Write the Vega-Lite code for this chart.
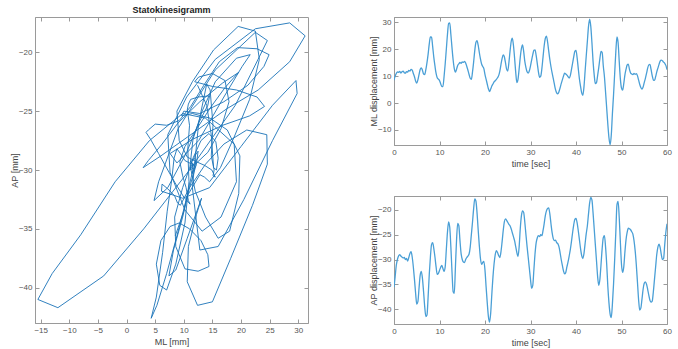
{
"$schema": "https://vega.github.io/schema/vega-lite/v6.json",
"padding": {"left": 9, "top": 5, "right": 5, "bottom": 2},
"background": "white",
"datasets": {"s": [
{"t":0,"ml":8.5,"ap":-35.6},{"t":0.25,"ml":10,"ap":-33.5},{"t":0.5,"ml":11,"ap":-31.2},{"t":0.75,"ml":11.6,"ap":-30},{"t":1,"ml":11.4,"ap":-29.3},{"t":1.25,"ml":11.8,"ap":-29},{"t":1.5,"ml":11.2,"ap":-29.3},{"t":1.75,"ml":11.6,"ap":-29.5},
{"t":2,"ml":11.9,"ap":-29.7},{"t":2.25,"ml":11.3,"ap":-29.6},{"t":2.5,"ml":11.1,"ap":-30},{"t":2.75,"ml":11.7,"ap":-29.8},{"t":3,"ml":11.5,"ap":-30.3},{"t":3.25,"ml":12.1,"ap":-29.6},{"t":3.5,"ml":11.9,"ap":-28.8},{"t":3.75,"ml":12.5,"ap":-28.4},
{"t":4,"ml":12.2,"ap":-29.5},{"t":4.25,"ml":11,"ap":-31.5},{"t":4.5,"ml":9.8,"ap":-34},{"t":4.75,"ml":8.2,"ap":-36.8},{"t":5,"ml":7.4,"ap":-39},{"t":5.25,"ml":8.6,"ap":-38.5},{"t":5.5,"ml":10.6,"ap":-35.8},{"t":5.75,"ml":12.5,"ap":-33.2},
{"t":6,"ml":13.1,"ap":-32.4},{"t":6.25,"ml":12.2,"ap":-33.8},{"t":6.5,"ml":10.8,"ap":-36.5},{"t":6.75,"ml":10.6,"ap":-39.5},{"t":7,"ml":12.4,"ap":-41.5},{"t":7.25,"ml":15,"ap":-41.2},{"t":7.5,"ml":18.2,"ap":-37.5},{"t":7.75,"ml":22,"ap":-33},
{"t":8,"ml":24.6,"ap":-29.5},{"t":8.25,"ml":24.5,"ap":-27},{"t":8.5,"ml":21,"ap":-26.6},{"t":8.75,"ml":17,"ap":-27.8},{"t":9,"ml":13.8,"ap":-29.5},{"t":9.25,"ml":11,"ap":-31.5},{"t":9.5,"ml":9.4,"ap":-33},{"t":9.75,"ml":8.9,"ap":-32.8},
{"t":10,"ml":8.4,"ap":-32.2},{"t":10.25,"ml":7.2,"ap":-31.6},{"t":10.5,"ml":6.2,"ap":-31.2},{"t":10.75,"ml":6.1,"ap":-31.8},{"t":11,"ml":9.8,"ap":-32.4},{"t":11.25,"ml":14.5,"ap":-31.5},{"t":11.5,"ml":20,"ap":-28},{"t":11.75,"ml":25.5,"ap":-24.5},
{"t":12,"ml":29.6,"ap":-22.4},{"t":12.25,"ml":29.8,"ap":-23.5},{"t":12.5,"ml":25.5,"ap":-27.5},{"t":12.75,"ml":20.5,"ap":-32.5},{"t":13,"ml":16,"ap":-36.5},{"t":13.25,"ml":12.8,"ap":-36.8},{"t":13.5,"ml":11.5,"ap":-31.5},{"t":13.75,"ml":12.6,"ap":-26},
{"t":14,"ml":14,"ap":-22.7},{"t":14.25,"ml":14.6,"ap":-23.2},{"t":14.5,"ml":15.1,"ap":-26.2},{"t":14.75,"ml":14.8,"ap":-28.8},{"t":15,"ml":15.3,"ap":-30},{"t":15.25,"ml":15.1,"ap":-30.5},{"t":15.5,"ml":15.5,"ap":-30.6},{"t":15.75,"ml":14.9,"ap":-30},
{"t":16,"ml":13.6,"ap":-29.6},{"t":16.25,"ml":12.2,"ap":-29.3},{"t":16.5,"ml":10.6,"ap":-28.9},{"t":16.75,"ml":9.2,"ap":-27.5},{"t":17,"ml":8.8,"ap":-25},{"t":17.25,"ml":11.5,"ap":-22.5},{"t":17.5,"ml":15.2,"ap":-19.8},{"t":17.75,"ml":19.5,"ap":-17.8},
{"t":18,"ml":22.5,"ap":-18.2},{"t":18.25,"ml":23.2,"ap":-20.6},{"t":18.5,"ml":21.5,"ap":-24},{"t":18.75,"ml":18.8,"ap":-27.2},{"t":19,"ml":16.4,"ap":-29.8},{"t":19.25,"ml":14.5,"ap":-31},{"t":19.5,"ml":13.6,"ap":-30.6},{"t":19.75,"ml":12.8,"ap":-30.4},
{"t":20,"ml":10.6,"ap":-32.2},{"t":20.25,"ml":8.8,"ap":-35.6},{"t":20.5,"ml":7,"ap":-38.8},{"t":20.75,"ml":5.3,"ap":-41.5},{"t":21,"ml":4.3,"ap":-42.6},{"t":21.25,"ml":5.2,"ap":-40.8},{"t":21.5,"ml":6.3,"ap":-37},{"t":21.75,"ml":7.1,"ap":-33.5},
{"t":22,"ml":7.9,"ap":-30.8},{"t":22.25,"ml":8.3,"ap":-29},{"t":22.5,"ml":8.8,"ap":-28.2},{"t":22.75,"ml":9.4,"ap":-28.6},{"t":23,"ml":10.2,"ap":-29.2},{"t":23.25,"ml":11.8,"ap":-29.6},{"t":23.5,"ml":14.2,"ap":-28.5},{"t":23.75,"ml":16.5,"ap":-26.5},
{"t":24,"ml":17.9,"ap":-24.2},{"t":24.25,"ml":17.2,"ap":-22.4},{"t":24.5,"ml":15,"ap":-21.8},{"t":24.75,"ml":12.6,"ap":-22.1},{"t":25,"ml":11.9,"ap":-22.5},{"t":25.25,"ml":15,"ap":-22.9},{"t":25.5,"ml":19.2,"ap":-23.2},{"t":25.75,"ml":22.8,"ap":-23.8},
{"t":26,"ml":24.1,"ap":-24.6},{"t":26.25,"ml":21.5,"ap":-25.4},{"t":26.5,"ml":16.8,"ap":-26.2},{"t":26.75,"ml":11.5,"ap":-27.4},{"t":27,"ml":7.6,"ap":-28.6},{"t":27.25,"ml":8.8,"ap":-29.4},{"t":27.5,"ml":12.6,"ap":-27.5},{"t":27.75,"ml":17,"ap":-23.8},
{"t":28,"ml":20.2,"ap":-21.2},{"t":28.25,"ml":21.6,"ap":-20.2},{"t":28.5,"ml":19.2,"ap":-20.5},{"t":28.75,"ml":15.5,"ap":-22.5},{"t":29,"ml":13.2,"ap":-25},{"t":29.25,"ml":11.6,"ap":-27.4},{"t":29.5,"ml":11.1,"ap":-29.6},{"t":29.75,"ml":12,"ap":-31.8},
{"t":30,"ml":13.8,"ap":-34},{"t":30.25,"ml":16,"ap":-35.8},{"t":30.5,"ml":18,"ap":-35.2},{"t":30.75,"ml":19.6,"ap":-32},{"t":31,"ml":19.8,"ap":-28.8},{"t":31.25,"ml":17.6,"ap":-26.6},{"t":31.5,"ml":14.6,"ap":-25.6},{"t":31.75,"ml":11.5,"ap":-25.2},
{"t":32,"ml":9.6,"ap":-25.4},{"t":32.25,"ml":10,"ap":-25},{"t":32.5,"ml":12.8,"ap":-25.2},{"t":32.75,"ml":17,"ap":-24.2},{"t":33,"ml":21.2,"ap":-22.8},{"t":33.25,"ml":24,"ap":-21.2},{"t":33.5,"ml":24.9,"ap":-20.2},{"t":33.75,"ml":22.8,"ap":-19.7},
{"t":34,"ml":19.4,"ap":-19.6},{"t":34.25,"ml":16.2,"ap":-20.8},{"t":34.5,"ml":13.5,"ap":-22.8},{"t":34.75,"ml":11.2,"ap":-24.6},{"t":35,"ml":9.2,"ap":-25.8},{"t":35.25,"ml":7,"ap":-26.2},{"t":35.5,"ml":5,"ap":-26.1},{"t":35.75,"ml":3.8,"ap":-26.6},
{"t":36,"ml":3.4,"ap":-26.8},{"t":36.25,"ml":4.2,"ap":-27.4},{"t":36.5,"ml":5.6,"ap":-28.6},{"t":36.75,"ml":7.2,"ap":-30},{"t":37,"ml":8.6,"ap":-31.2},{"t":37.25,"ml":10,"ap":-32.3},{"t":37.5,"ml":11.1,"ap":-32.9},{"t":37.75,"ml":10.8,"ap":-32.6},
{"t":38,"ml":10.4,"ap":-31.5},{"t":38.25,"ml":9.8,"ap":-30.5},{"t":38.5,"ml":9.3,"ap":-29.3},{"t":38.75,"ml":10.2,"ap":-28},{"t":39,"ml":12.4,"ap":-26.4},{"t":39.25,"ml":14.8,"ap":-24.6},{"t":39.5,"ml":17.2,"ap":-23},{"t":39.75,"ml":19.2,"ap":-21.9},
{"t":40,"ml":19.6,"ap":-21.7},{"t":40.25,"ml":16.8,"ap":-22.6},{"t":40.5,"ml":12.8,"ap":-24.2},{"t":40.75,"ml":9,"ap":-26},{"t":41,"ml":6.2,"ap":-27.8},{"t":41.25,"ml":3.8,"ap":-29.2},{"t":41.5,"ml":2.9,"ap":-29.8},{"t":41.75,"ml":6,"ap":-28.8},
{"t":42,"ml":11.8,"ap":-26.8},{"t":42.25,"ml":17.5,"ap":-24.8},{"t":42.5,"ml":23,"ap":-23.2},{"t":42.75,"ml":28.5,"ap":-20.8},{"t":43,"ml":31.2,"ap":-18.6},{"t":43.25,"ml":28.5,"ap":-17.5},{"t":43.5,"ml":22.5,"ap":-18},{"t":43.75,"ml":15.5,"ap":-20.6},
{"t":44,"ml":10.5,"ap":-23.8},{"t":44.25,"ml":7.2,"ap":-27},{"t":44.5,"ml":7.6,"ap":-30.2},{"t":44.75,"ml":10.2,"ap":-33.4},{"t":45,"ml":13.2,"ap":-35.2},{"t":45.25,"ml":16.5,"ap":-34},{"t":45.5,"ml":19.2,"ap":-31},{"t":45.75,"ml":18.8,"ap":-27.8},
{"t":46,"ml":13.8,"ap":-25.6},{"t":46.25,"ml":9.8,"ap":-25.2},{"t":46.5,"ml":4,"ap":-27.5},{"t":46.75,"ml":-2,"ap":-31},{"t":47,"ml":-8,"ap":-35.5},{"t":47.25,"ml":-13,"ap":-38.8},{"t":47.5,"ml":-15.5,"ap":-41},{"t":47.75,"ml":-12,"ap":-41.7},
{"t":48,"ml":-4,"ap":-39},{"t":48.25,"ml":3,"ap":-35},{"t":48.5,"ml":11,"ap":-30},{"t":48.75,"ml":19,"ap":-24.5},{"t":49,"ml":24.6,"ap":-19},{"t":49.25,"ml":22.5,"ap":-18.3},{"t":49.5,"ml":15.5,"ap":-21.5},{"t":49.75,"ml":9,"ap":-26.5},
{"t":50,"ml":5.6,"ap":-31},{"t":50.25,"ml":4.8,"ap":-32.6},{"t":50.5,"ml":7.2,"ap":-31.5},{"t":50.75,"ml":10.5,"ap":-28.5},{"t":51,"ml":12.6,"ap":-26},{"t":51.25,"ml":14.2,"ap":-24.5},{"t":51.5,"ml":14.5,"ap":-23.7},{"t":51.75,"ml":12.5,"ap":-23.8},
{"t":52,"ml":11.2,"ap":-24},{"t":52.25,"ml":10.8,"ap":-24.4},{"t":52.5,"ml":10.6,"ap":-24.9},{"t":52.75,"ml":11,"ap":-26.2},{"t":53,"ml":10.7,"ap":-28.2},{"t":53.25,"ml":10.9,"ap":-31},{"t":53.5,"ml":10.2,"ap":-34.5},{"t":53.75,"ml":8.6,"ap":-38},
{"t":54,"ml":7,"ap":-40.2},{"t":54.25,"ml":5.8,"ap":-39.8},{"t":54.5,"ml":5.2,"ap":-38},{"t":54.75,"ml":6,"ap":-36},{"t":55,"ml":7.6,"ap":-34.8},{"t":55.25,"ml":9.2,"ap":-34.5},{"t":55.5,"ml":11,"ap":-35},{"t":55.75,"ml":13,"ap":-36},
{"t":56,"ml":14.2,"ap":-37.2},{"t":56.25,"ml":14.4,"ap":-38.2},{"t":56.5,"ml":12.5,"ap":-38.6},{"t":56.75,"ml":10.2,"ap":-38.4},{"t":57,"ml":8.6,"ap":-36.5},{"t":57.25,"ml":8.4,"ap":-34},{"t":57.5,"ml":9.8,"ap":-31.5},{"t":57.75,"ml":11.6,"ap":-29},
{"t":58,"ml":13,"ap":-27.5},{"t":58.25,"ml":14.4,"ap":-26.9},{"t":58.5,"ml":15.6,"ap":-27.6},{"t":58.75,"ml":16,"ap":-29},{"t":59,"ml":15.7,"ap":-30},{"t":59.25,"ml":15.2,"ap":-29.8},{"t":59.5,"ml":14.8,"ap":-27},{"t":59.75,"ml":14,"ap":-24.5},
{"t":60,"ml":12.4,"ap":-22.8}
]},
"config": {
  "font": "Liberation Sans",
  "view": {"stroke": "#9a9a9a", "strokeWidth": 1},
  "axis": {"domainColor": "#9a9a9a", "tickColor": "#9a9a9a", "tickSize": -4, "labelPadding": 7, "labelFontSize": 8, "labelColor": "#555555", "titleFontSize": 9, "titleFontWeight": "normal", "titleColor": "#444444", "grid": false, "labelFlush": false}
},
"hconcat": [
  {
    "width": 273, "height": 306,
    "title": {"text": "Statokinesigramm", "fontSize": 9, "fontWeight": "bold", "color": "#222222", "offset": 2},
    "data": {"name": "s"},
    "layer": [
      {
        "mark": {"type": "line", "color": "#1a73b8", "strokeWidth": 0.9, "clip": true},
        "encoding": {
          "x": {"field": "ml", "type": "quantitative", "title": "ML [mm]", "scale": {"domain": [-16, 31.7], "nice": false, "zero": false}, "axis": {"values": [-15,-10,-5,0,5,10,15,20,25,30], "titlePadding": 3}},
          "y": {"field": "ap", "type": "quantitative", "title": "AP [mm]", "scale": {"domain": [-43, -17], "nice": false, "zero": false}, "axis": {"values": [-40,-35,-30,-25,-20], "titlePadding": -1}},
          "order": {"field": "t", "type": "quantitative"}
        }
      },
      {
        "mark": {"type": "point", "opacity": 0},
        "encoding": {
          "x": {"field": "ml", "type": "quantitative", "axis": {"orient": "top", "values": [-15,-10,-5,0,5,10,15,20,25,30], "labels": false, "title": null, "domain": false}},
          "y": {"field": "ap", "type": "quantitative", "axis": {"orient": "right", "values": [-40,-35,-30,-25,-20], "labels": false, "title": null, "domain": false}}
        }
      }
    ],
    "resolve": {"axis": {"x": "independent", "y": "independent"}}
  },
  {
    "vconcat": [
      {
        "width": 273, "height": 128,
        "data": {"name": "s"},
        "layer": [
          {
            "mark": {"type": "line", "color": "#4a9fd6", "strokeWidth": 1.3, "clip": true, "interpolate": "monotone"},
            "encoding": {
              "x": {"field": "t", "type": "quantitative", "title": "time [sec]", "scale": {"domain": [0, 60], "nice": false}, "axis": {"values": [0,10,20,30,40,50,60], "titlePadding": 3}},
              "y": {"field": "ml", "type": "quantitative", "title": "ML displacement [mm]", "scale": {"domain": [-15.6, 32], "nice": false, "zero": false}, "axis": {"values": [-10,0,10,20,30], "titlePadding": -1}}
            }
          },
          {
            "mark": {"type": "point", "opacity": 0},
            "encoding": {
              "x": {"field": "t", "type": "quantitative", "axis": {"orient": "top", "values": [0,10,20,30,40,50,60], "labels": false, "title": null, "domain": false}},
              "y": {"field": "ml", "type": "quantitative", "axis": {"orient": "right", "values": [-10,0,10,20,30], "labels": false, "title": null, "domain": false}}
            }
          }
        ],
        "resolve": {"axis": {"x": "independent", "y": "independent"}}
      },
      {
        "width": 273, "height": 128,
        "data": {"name": "s"},
        "layer": [
          {
            "mark": {"type": "line", "color": "#4a9fd6", "strokeWidth": 1.3, "clip": true, "interpolate": "monotone"},
            "encoding": {
              "x": {"field": "t", "type": "quantitative", "title": "time [sec]", "scale": {"domain": [0, 60], "nice": false}, "axis": {"values": [0,10,20,30,40,50,60], "titlePadding": 3}},
              "y": {"field": "ap", "type": "quantitative", "title": "AP displacement [mm]", "scale": {"domain": [-43, -17.2], "nice": false, "zero": false}, "axis": {"values": [-40,-35,-30,-25,-20], "titlePadding": -1}}
            }
          },
          {
            "mark": {"type": "point", "opacity": 0},
            "encoding": {
              "x": {"field": "t", "type": "quantitative", "axis": {"orient": "top", "values": [0,10,20,30,40,50,60], "labels": false, "title": null, "domain": false}},
              "y": {"field": "ap", "type": "quantitative", "axis": {"orient": "right", "values": [-40,-35,-30,-25,-20], "labels": false, "title": null, "domain": false}}
            }
          }
        ],
        "resolve": {"axis": {"x": "independent", "y": "independent"}}
      }
    ],
    "spacing": 51, "bounds": "flush"
  }
],
"spacing": 86, "bounds": "flush"
}
